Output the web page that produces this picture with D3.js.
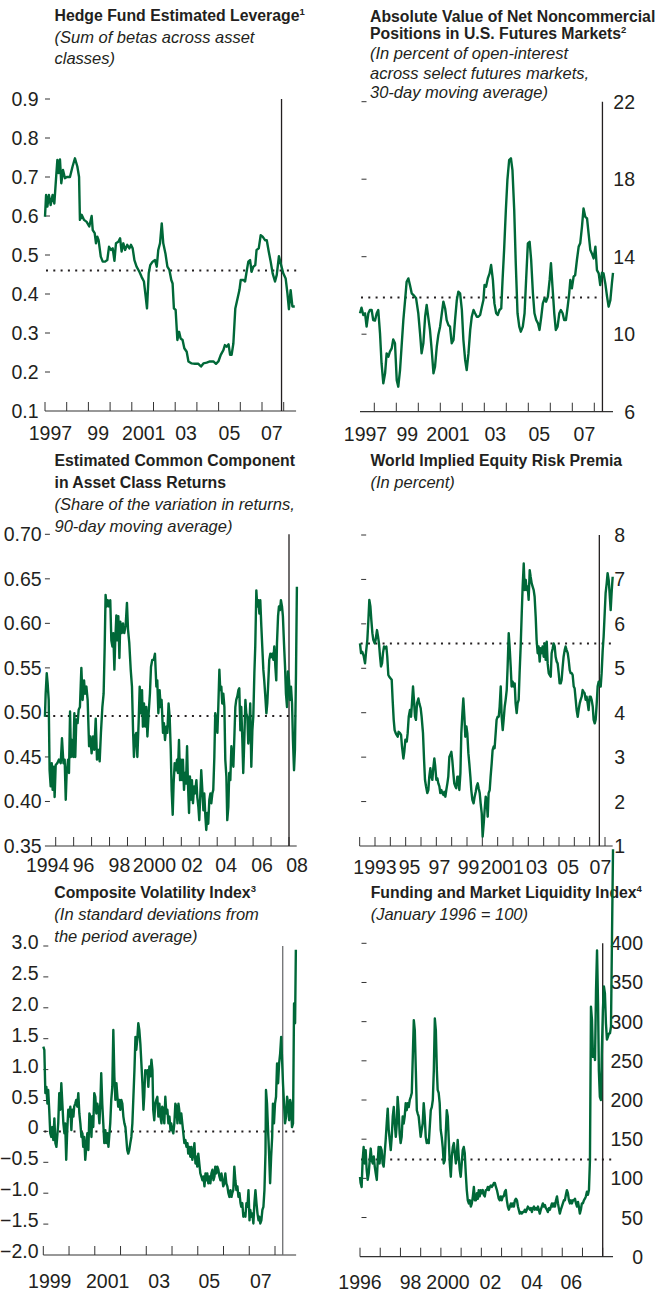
<!DOCTYPE html>
<html>
<head>
<meta charset="utf-8">
<script src="https://cdn.jsdelivr.net/npm/d3@7"></script>
<style>
  body { margin: 0; background: #fff; }
  svg { display: block; }
</style>
</head>
<body>
<div id="chart"></div>
<script>
// Hedge fund leverage (sum of betas)
let leverageYears = [1997.00,1997.05,1997.11,1997.18,1997.26,1997.35,1997.43,1997.51,1997.57,1997.63,
  1997.69,1997.75,1997.83,1997.92,1998.00,1998.15,1998.27,1998.38,1998.49,1998.57,
  1998.61,1998.69,1998.80,1998.92,1999.04,1999.15,1999.20,1999.29,1999.35,1999.41,
  1999.47,1999.57,1999.66,1999.77,1999.87,1999.95,2000.04,2000.12,2000.20,2000.27,
  2000.38,2000.46,2000.53,2000.61,2000.69,2000.79,2000.89,2000.96,2001.04,2001.12,
  2001.22,2001.35,2001.45,2001.56,2001.64,2001.70,2001.78,2001.85,2001.96,2002.07,
  2002.15,2002.22,2002.30,2002.38,2002.45,2002.55,2002.64,2002.73,2002.82,2002.88,
  2002.94,2003.02,2003.10,2003.18,2003.25,2003.34,2003.42,2003.53,2003.61,2003.76,
  2003.91,2004.07,2004.19,2004.30,2004.45,2004.60,2004.76,2004.88,2004.99,2005.10,
  2005.22,2005.29,2005.37,2005.46,2005.53,2005.60,2005.68,2005.77,2005.86,2005.96,
  2006.02,2006.14,2006.22,2006.29,2006.37,2006.45,2006.52,2006.60,2006.69,2006.75,
  2006.85,2006.94,2007.03,2007.14,2007.22,2007.31,2007.40,2007.49,2007.60,2007.68,
  2007.78,2007.88,2007.98,2008.09,2008.17,2008.24,2008.32,2008.40,2008.51]
let leverageValues = [0.598,0.654,0.624,0.654,0.628,0.654,0.632,0.697,0.744,0.71,
  0.745,0.684,0.718,0.697,0.70,0.70,0.727,0.748,0.727,0.70,
  0.59,0.603,0.59,0.585,0.573,0.60,0.564,0.556,0.53,0.547,
  0.538,0.496,0.483,0.483,0.487,0.521,0.513,0.517,0.485,0.53,
  0.534,0.543,0.509,0.53,0.513,0.526,0.517,0.526,0.517,0.487,
  0.47,0.457,0.444,0.432,0.393,0.363,0.453,0.474,0.483,0.487,
  0.47,0.513,0.53,0.581,0.53,0.504,0.47,0.462,0.436,0.427,
  0.363,0.359,0.282,0.303,0.286,0.282,0.261,0.252,0.227,0.222,
  0.221,0.221,0.214,0.222,0.224,0.227,0.227,0.221,0.227,0.244,
  0.256,0.269,0.265,0.271,0.244,0.244,0.273,0.363,0.385,0.41,
  0.436,0.436,0.432,0.457,0.483,0.487,0.457,0.47,0.474,0.513,
  0.517,0.551,0.547,0.538,0.538,0.509,0.483,0.453,0.432,0.449,
  0.497,0.474,0.453,0.44,0.402,0.361,0.41,0.368,0.368]

// Net noncommercial positions, percent of open interest
let positionsYears = [1997.35,1997.42,1997.50,1997.58,1997.65,1997.73,1997.80,1997.88,1997.95,1998.03,
  1998.11,1998.18,1998.26,1998.33,1998.41,1998.49,1998.56,1998.64,1998.71,1998.79,
  1998.86,1998.94,1999.02,1999.09,1999.17,1999.24,1999.32,1999.40,1999.47,1999.55,
  1999.62,1999.70,1999.78,1999.90,2000.00,2000.08,2000.15,2000.23,2000.31,2000.38,
  2000.46,2000.53,2000.61,2000.69,2000.76,2000.84,2000.91,2000.99,2001.07,2001.14,
  2001.22,2001.29,2001.37,2001.44,2001.52,2001.60,2001.67,2001.75,2001.82,2001.90,
  2001.98,2002.05,2002.13,2002.20,2002.28,2002.36,2002.43,2002.51,2002.58,2002.66,
  2002.73,2002.81,2002.89,2002.96,2003.01,2003.08,2003.16,2003.24,2003.31,2003.39,
  2003.46,2003.54,2003.61,2003.69,2003.77,2003.83,2003.90,2003.98,2004.05,2004.13,
  2004.21,2004.28,2004.36,2004.43,2004.51,2004.59,2004.66,2004.75,2004.83,2004.90,
  2004.98,2005.06,2005.13,2005.21,2005.28,2005.36,2005.44,2005.51,2005.59,2005.66,
  2005.74,2005.81,2005.89,2005.97,2006.03,2006.10,2006.18,2006.25,2006.33,2006.41,
  2006.48,2006.56,2006.63,2006.71,2006.79,2006.86,2006.91,2006.98,2007.06,2007.13,
  2007.21,2007.29,2007.36,2007.44,2007.51,2007.59,2007.67,2007.74,2007.82,2007.89,
  2007.97,2008.05,2008.12,2008.20,2008.27,2008.35,2008.42,2008.50,2008.58,2008.65,
  2008.73,2008.80,2008.85]
let positionsValues = [11.08,11.37,10.99,11.08,10.39,11.08,11.25,11.25,10.73,10.70,
  11.08,11.25,10.04,8.49,7.46,7.98,9.01,8.84,9.10,9.27,
  9.73,9.53,7.63,7.29,8.15,9.36,10.73,11.76,12.71,12.88,
  12.54,12.11,12.02,11.85,11.08,10.04,9.01,9.53,10.90,11.51,
  10.82,10.22,9.18,7.98,8.32,9.36,9.96,10.39,11.08,11.68,
  11.33,10.73,10.47,10.39,9.53,9.70,10.73,11.76,12.19,12.11,
  11.25,9.70,8.67,8.15,9.01,10.22,10.90,11.25,11.08,10.90,
  10.90,10.99,11.42,11.76,12.54,12.45,12.88,13.14,13.57,12.80,
  11.59,11.08,10.99,11.25,11.33,12.80,14.34,16.41,17.96,18.99,
  19.08,18.47,16.41,13.66,11.08,10.39,10.13,10.39,11.08,12.80,
  14.69,14.77,13.83,12.11,11.08,10.73,10.56,10.22,10.90,11.59,
  11.85,11.68,11.94,12.80,13.66,12.45,11.08,10.22,10.39,11.08,
  11.25,11.08,10.73,10.73,11.42,12.11,12.80,12.37,12.97,13.05,
  13.83,14.52,14.69,15.55,16.49,16.06,15.98,15.20,14.34,14.17,
  13.91,14.52,13.31,13.14,12.54,13.17,13.14,12.62,11.94,11.42,
  11.76,12.62,13.17]

// Common component in asset class returns
let commonYears = [1994.40,1994.44,1994.50,1994.55,1994.61,1994.66,1994.72,1994.78,1994.83,1994.89,1994.94,1995.00,
  1995.09,1995.18,1995.28,1995.35,1995.43,1995.50,1995.56,1995.61,1995.69,1995.74,1995.80,1995.85,1995.91,1995.98,1996.04,1996.09,1996.15,1996.22,1996.28,1996.35,
  1996.43,1996.50,1996.58,1996.63,1996.71,1996.78,1996.86,1996.93,1997.00,1997.08,1997.15,1997.23,1997.30,1997.38,1997.45,1997.52,1997.60,1997.67,1997.73,1997.78,
  1997.84,1997.90,1997.97,1998.04,1998.10,1998.16,1998.21,1998.27,1998.32,1998.38,1998.43,1998.49,1998.55,1998.60,1998.68,1998.75,1998.82,1998.90,1998.97,1999.03,
  1999.10,1999.18,1999.25,1999.31,1999.36,1999.42,1999.49,1999.55,1999.62,1999.68,1999.73,1999.81,1999.86,1999.92,1999.99,2000.05,2000.11,2000.18,2000.25,2000.31,
  2000.38,2000.46,2000.53,2000.61,2000.66,2000.72,2000.79,2000.85,2000.90,2000.98,2001.03,2001.09,2001.16,2001.22,2001.29,2001.35,2001.41,2001.46,2001.52,2001.57,
  2001.63,2001.70,2001.76,2001.81,2001.87,2001.93,2001.98,2002.04,2002.09,2002.15,2002.20,2002.26,2002.32,2002.37,2002.43,2002.48,2002.54,2002.59,2002.65,2002.71,
  2002.76,2002.84,2002.89,2002.95,2003.00,2003.06,2003.11,2003.17,2003.23,2003.28,2003.34,2003.39,2003.45,2003.50,2003.56,2003.62,2003.67,2003.73,2003.78,2003.84,
  2003.89,2003.95,2004.01,2004.06,2004.12,2004.17,2004.23,2004.28,2004.34,2004.40,2004.45,2004.51,2004.56,2004.62,2004.67,2004.73,2004.79,2004.84,2004.90,2004.95,
  2005.01,2005.06,2005.12,2005.18,2005.23,2005.29,2005.34,2005.40,2005.45,2005.51,2005.57,2005.62,2005.68,2005.73,2005.79,2005.84,2005.90,2005.96,2006.01,2006.07,
  2006.12,2006.18,2006.23,2006.29,2006.35,2006.40,2006.46,2006.51,2006.57,2006.62,2006.68,2006.74,2006.79,2006.85,2006.90,2006.96,2007.01,2007.07,2007.13,2007.18,
  2007.24,2007.29,2007.33,2007.39,2007.44,2007.50,2007.55,2007.61,2007.66,2007.72,2007.78,2007.83,2007.89,2007.94,2008.00,2008.05,2008.11,2008.17,2008.22,2008.28,
  2008.33,2008.39,2008.44]
let commonValues = [0.495,0.521,0.544,0.533,0.514,0.435,0.417,0.443,0.413,0.439,0.405,0.441,
  0.443,0.447,0.443,0.471,0.443,0.447,0.402,0.432,0.447,0.432,0.501,0.450,0.469,0.450,0.499,0.450,0.492,0.488,0.503,0.506,
  0.550,0.514,0.536,0.521,0.529,0.514,0.462,0.473,0.454,0.473,0.458,0.493,0.447,0.458,0.445,0.477,0.506,0.521,0.574,0.632,
  0.619,0.626,0.619,0.626,0.581,0.574,0.589,0.548,0.581,0.609,0.581,0.608,0.561,0.602,0.589,0.600,0.589,0.598,0.623,0.593,
  0.578,0.548,0.529,0.480,0.450,0.473,0.477,0.450,0.488,0.529,0.499,0.525,0.484,0.510,0.484,0.506,0.473,0.499,0.521,0.551,
  0.559,0.559,0.566,0.529,0.536,0.499,0.525,0.506,0.514,0.477,0.488,0.469,0.484,0.477,0.510,0.495,0.458,0.413,0.385,0.420,
  0.443,0.435,0.447,0.432,0.469,0.424,0.447,0.424,0.447,0.413,0.432,0.420,0.462,0.420,0.387,0.428,0.402,0.424,0.398,0.417,
  0.409,0.424,0.405,0.394,0.379,0.409,0.435,0.413,0.390,0.409,0.383,0.368,0.387,0.375,0.402,0.409,0.398,0.409,0.413,0.450,
  0.499,0.492,0.477,0.506,0.548,0.525,0.529,0.510,0.521,0.506,0.447,0.428,0.379,0.394,0.432,0.424,0.462,0.450,0.439,0.469,
  0.506,0.514,0.518,0.525,0.527,0.480,0.506,0.469,0.432,0.469,0.514,0.499,0.495,0.465,0.484,0.510,0.439,0.480,0.495,0.544,
  0.574,0.637,0.619,0.626,0.611,0.626,0.596,0.574,0.548,0.536,0.518,0.499,0.510,0.536,0.559,0.566,0.562,0.566,0.559,0.574,
  0.551,0.536,0.578,0.608,0.619,0.615,0.626,0.619,0.608,0.578,0.551,0.521,0.506,0.546,0.536,0.514,0.529,0.510,0.469,0.435,
  0.458,0.544,0.641]

// World implied equity risk premia, percent
let premiaYears = [1992.02,1992.09,1992.17,1992.26,1992.35,1992.41,1992.50,1992.57,1992.63,1992.70,1992.76,1992.83,1992.89,1992.98,1993.04,1993.13,1993.20,1993.26,1993.33,1993.39,
  1993.46,1993.52,1993.59,1993.67,1993.74,1993.80,1993.87,1993.93,1994.02,1994.09,1994.15,1994.22,1994.28,1994.35,1994.41,1994.48,1994.54,1994.63,1994.70,1994.76,
  1994.85,1994.91,1994.98,1995.07,1995.13,1995.20,1995.28,1995.35,1995.41,1995.48,1995.54,1995.61,1995.67,1995.74,1995.83,1995.89,1995.98,1996.04,1996.13,1996.20,
  1996.26,1996.33,1996.41,1996.48,1996.54,1996.61,1996.67,1996.74,1996.80,1996.87,1996.93,1997.00,1997.07,1997.13,1997.20,1997.26,1997.33,1997.39,1997.46,1997.52,
  1997.59,1997.65,1997.72,1997.78,1997.85,1997.91,1997.98,1998.04,1998.11,1998.17,1998.24,1998.30,1998.37,1998.43,1998.50,1998.57,1998.63,1998.70,1998.76,1998.83,
  1998.89,1998.96,1999.02,1999.09,1999.15,1999.22,1999.28,1999.35,1999.43,1999.50,1999.57,1999.63,1999.70,1999.76,1999.83,1999.89,1999.96,2000.02,2000.09,2000.15,
  2000.22,2000.28,2000.35,2000.41,2000.48,2000.54,2000.61,2000.67,2000.74,2000.80,2000.87,2000.93,2001.00,2001.07,2001.13,2001.20,2001.26,2001.33,2001.39,2001.46,
  2001.52,2001.59,2001.65,2001.72,2001.78,2001.85,2001.91,2001.98,2002.04,2002.11,2002.17,2002.24,2002.30,2002.37,2002.43,2002.50,2002.57,2002.63,2002.70,2002.76,
  2002.83,2002.89,2002.96,2003.02,2003.09,2003.15,2003.22,2003.28,2003.35,2003.41,2003.48,2003.54,2003.61,2003.67,2003.74,2003.80,2003.87,2003.93,2004.00,2004.07,
  2004.13,2004.20,2004.26,2004.33,2004.39,2004.46,2004.52,2004.59,2004.65,2004.72,2004.78,2004.85,2004.91,2004.98,2005.04,2005.11,2005.17,2005.24,2005.30,2005.37,
  2005.43,2005.50,2005.57,2005.63,2005.70,2005.76,2005.83,2005.89,2005.96,2006.02,2006.09,2006.15,2006.22,2006.28,2006.35,2006.41,2006.48,2006.54,2006.61,2006.67,
  2006.74,2006.80,2006.87,2006.93,2007.00,2007.07,2007.13,2007.20,2007.26,2007.33,2007.39,2007.46,2007.52,2007.59,2007.65,2007.72,2007.78,2007.85,2007.91,2007.98,
  2008.04,2008.11,2008.17,2008.24,2008.30,2008.37,2008.43,2008.50]
let premiaValues = [5.56,5.34,5.37,5.28,5.11,5.34,5.64,6.09,6.54,6.39,6.09,5.79,5.64,5.56,5.64,5.86,5.71,5.56,5.26,5.04,
  5.11,5.34,5.49,5.45,5.49,5.26,4.85,4.81,4.77,4.74,4.29,3.84,3.61,3.54,3.50,3.46,3.57,3.54,3.50,3.24,
  2.97,3.12,3.39,3.35,3.54,3.91,4.06,3.91,4.21,4.59,4.29,3.91,3.84,4.21,4.32,4.21,4.10,3.91,3.54,2.94,
  2.49,2.34,2.19,2.26,2.56,2.75,2.56,2.49,2.75,2.97,2.79,2.49,2.52,2.41,2.34,2.19,2.26,2.19,2.15,2.22,
  2.11,2.26,2.41,2.56,3.01,3.05,3.12,2.94,2.64,2.41,2.34,2.30,2.56,2.56,2.26,2.64,3.54,3.99,4.32,3.91,
  3.46,3.69,3.54,3.09,2.86,2.56,2.26,2.04,1.96,2.11,2.22,2.34,2.41,2.30,2.19,1.96,1.74,1.21,1.51,1.81,
  2.11,2.04,1.66,2.19,2.26,2.56,2.86,3.16,3.24,3.20,3.54,3.84,3.91,3.91,4.14,4.59,3.91,3.61,3.84,4.14,
  4.29,4.51,5.04,5.79,5.49,5.04,4.59,4.70,4.59,4.66,4.21,3.99,4.21,4.29,4.89,5.49,6.24,6.84,7.36,6.76,
  6.99,6.76,6.84,6.54,7.21,7.06,6.91,6.84,6.76,6.61,6.16,5.64,5.34,5.49,5.15,5.45,5.34,5.49,5.26,5.56,
  5.19,5.60,5.11,4.89,4.85,4.81,5.34,5.45,5.56,5.49,5.26,5.15,5.11,4.89,4.66,4.66,4.74,5.04,5.26,5.41,
  5.49,5.41,5.34,5.19,4.96,4.89,4.89,4.85,4.59,4.55,4.29,4.06,3.91,4.06,4.21,4.29,4.36,4.51,4.47,4.44,
  4.29,4.36,4.21,4.06,4.36,4.36,4.29,4.14,3.84,3.76,3.84,4.21,4.59,4.70,4.66,4.59,4.89,5.41,5.71,6.24,
  6.69,6.91,7.14,6.99,6.69,6.31,6.69,7.06]

// Composite volatility index, standard deviations
let volYears = [1999.00,1999.04,1999.08,1999.12,1999.16,1999.19,1999.23,1999.27,1999.31,1999.35,1999.39,1999.43,1999.47,1999.51,1999.54,1999.58,1999.62,1999.66,1999.70,1999.74,
  1999.78,1999.82,1999.85,1999.89,1999.93,1999.97,2000.01,2000.05,2000.09,2000.13,2000.17,2000.20,2000.24,2000.28,2000.32,2000.36,2000.40,2000.44,2000.48,2000.52,
  2000.55,2000.59,2000.63,2000.67,2000.71,2000.75,2000.79,2000.83,2000.87,2000.90,2000.94,2000.98,2001.02,2001.06,2001.10,2001.14,2001.18,2001.22,2001.25,2001.29,
  2001.33,2001.37,2001.41,2001.45,2001.49,2001.53,2001.56,2001.60,2001.64,2001.68,2001.72,2001.76,2001.80,2001.84,2001.88,2001.91,2001.95,2001.99,2002.03,2002.07,
  2002.11,2002.15,2002.19,2002.23,2002.26,2002.30,2002.34,2002.38,2002.42,2002.46,2002.50,2002.54,2002.58,2002.61,2002.65,2002.69,2002.73,2002.77,2002.81,2002.85,
  2002.89,2002.92,2002.96,2003.00,2003.04,2003.08,2003.12,2003.16,2003.20,2003.24,2003.27,2003.31,2003.35,2003.39,2003.43,2003.47,2003.51,2003.55,2003.59,2003.62,
  2003.66,2003.70,2003.74,2003.78,2003.82,2003.86,2003.90,2003.94,2003.97,2004.01,2004.05,2004.09,2004.13,2004.17,2004.21,2004.25,2004.28,2004.32,2004.36,2004.40,
  2004.44,2004.48,2004.52,2004.56,2004.60,2004.63,2004.67,2004.71,2004.75,2004.79,2004.83,2004.87,2004.91,2004.95,2004.98,2005.02,2005.06,2005.10,2005.14,2005.18,
  2005.22,2005.26,2005.30,2005.33,2005.37,2005.41,2005.45,2005.49,2005.53,2005.57,2005.61,2005.65,2005.68,2005.72,2005.76,2005.80,2005.84,2005.88,2005.92,2005.96,
  2005.99,2006.03,2006.07,2006.11,2006.15,2006.19,2006.23,2006.27,2006.31,2006.34,2006.38,2006.42,2006.46,2006.50,2006.54,2006.58,2006.62,2006.66,2006.69,2006.73,
  2006.77,2006.81,2006.85,2006.89,2006.93,2006.97,2007.01,2007.04,2007.08,2007.12,2007.16,2007.20,2007.24,2007.28,2007.32,2007.36,2007.39,2007.43,2007.47,2007.51,
  2007.55,2007.59,2007.63,2007.65,
  2007.69,2007.73,2007.77,2007.81,2007.85,2007.89,2007.92,2007.96,2008.00,2008.04,2008.08,2008.12,2008.16,2008.20,2008.24,2008.27,2008.31,2008.35,2008.39,2008.43,
  2008.47,2008.51,2008.55,2008.59,2008.62,2008.66,2008.70,2008.74,2008.78,2008.81]
let volValues = [1.37,1.32,0.62,0.72,0.45,0.67,0.35,-0.03,-0.09,0.07,-0.14,0.21,-0.19,-0.25,-0.09,0.13,0.62,0.35,0.78,0.45,
  0.13,-0.03,0.13,-0.46,0.02,0.35,0.24,0.40,0.02,0.35,0.24,0.40,0.45,0.51,0.40,0.62,0.29,0.13,-0.09,-0.03,
  -0.25,-0.09,-0.46,-0.25,-0.03,-0.30,0.29,0.24,-0.09,0.24,0.07,0.62,0.56,0.29,0.45,0.35,0.13,0.51,0.94,0.45,
  0.13,-0.19,0.02,-0.19,-0.03,-0.25,-0.09,0.13,0.51,0.72,1.64,0.89,0.51,0.78,0.56,0.40,0.51,0.35,0.51,0.45,
  0.24,0.13,0.07,-0.14,-0.30,-0.36,-0.30,-0.19,-0.09,0.13,0.56,0.99,1.53,1.32,1.48,1.75,1.64,1.42,1.10,0.78,
  0.35,0.56,0.99,0.94,0.99,0.72,1.05,0.89,1.16,0.99,0.35,0.18,0.45,0.51,0.56,0.24,0.45,0.24,0.13,0.40,
  0.35,0.13,0.56,0.29,0.35,0.13,0.24,0.02,0.13,0.02,-0.03,0.13,0.45,0.40,0.13,0.45,0.35,0.13,0.29,0.13,
  -0.03,-0.19,-0.14,-0.25,-0.19,-0.36,-0.25,-0.41,-0.25,-0.46,-0.36,-0.19,-0.52,-0.41,-0.57,-0.36,-0.52,-0.68,-0.73,-0.79,
  -0.73,-0.89,-0.68,-0.79,-0.68,-0.84,-0.73,-0.84,-0.68,-0.62,-0.79,-0.73,-0.57,-0.68,-0.57,-0.62,-0.73,-0.79,-0.68,-0.79,
  -0.89,-0.84,-0.68,-0.84,-0.89,-1.00,-1.06,-0.95,-1.06,-1.00,-0.95,-0.57,-0.79,-0.95,-0.89,-1.06,-1.00,-1.16,-1.22,-1.16,
  -1.38,-1.33,-1.38,-1.16,-1.22,-0.95,-1.44,-1.27,-1.38,-1.33,-1.49,-1.16,-0.95,-1.16,-1.33,-1.44,-1.38,-1.49,-1.44,-1.27,
  -1.22,-0.95,-0.36,0.67,
  0.45,0.02,-0.36,-0.84,-0.41,-0.09,0.45,0.13,0.45,0.56,1.10,0.78,1.10,1.26,1.53,1.21,0.78,0.45,0.13,0.24,
  0.56,0.45,0.18,0.51,0.45,0.07,0.13,2.07,1.75,2.94]

// Funding and market liquidity index, January 1996 = 100
let liquidityYears = [1996.00,1996.03,
  1996.08,1996.13,1996.18,1996.23,1996.28,1996.33,1996.38,1996.43,1996.48,1996.53,1996.58,1996.63,1996.68,1996.73,1996.78,1996.83,1996.87,1996.92,1996.97,1997.02,
  1997.07,1997.12,1997.17,1997.22,1997.27,1997.32,1997.37,1997.42,1997.47,1997.52,1997.57,1997.62,1997.67,1997.72,1997.77,1997.82,1997.86,1997.91,1997.96,1998.01,
  1998.06,1998.11,1998.16,1998.21,1998.26,1998.31,1998.36,1998.41,1998.46,1998.51,1998.56,1998.61,1998.66,1998.71,1998.76,1998.81,1998.85,1998.90,1998.95,1999.00,
  1999.05,1999.10,1999.15,1999.20,1999.25,1999.30,1999.35,1999.40,1999.45,1999.50,1999.55,1999.60,1999.65,1999.70,1999.75,1999.80,1999.84,1999.89,1999.94,1999.99,
  2000.04,2000.09,2000.14,2000.19,2000.24,2000.29,2000.34,2000.39,2000.44,2000.49,2000.54,2000.59,2000.64,2000.69,2000.74,2000.79,2000.83,2000.88,2000.93,2000.98,
  2001.03,2001.08,2001.13,2001.18,2001.23,2001.28,2001.33,2001.38,2001.43,2001.48,2001.53,2001.58,2001.63,2001.68,2001.73,2001.78,2001.83,2001.87,2001.92,2001.97,
  2002.02,2002.07,2002.12,2002.17,2002.22,2002.27,2002.32,2002.37,2002.42,2002.47,2002.52,2002.57,2002.62,2002.67,2002.72,2002.77,2002.82,2002.86,2002.91,2002.96,
  2003.01,2003.06,2003.11,2003.16,2003.21,2003.26,2003.31,2003.36,2003.41,2003.46,2003.51,2003.56,2003.61,2003.66,2003.71,2003.76,2003.81,2003.85,2003.90,2003.95,
  2004.00,2004.05,2004.10,2004.15,2004.20,2004.25,2004.30,2004.35,2004.40,2004.45,2004.50,2004.55,2004.60,2004.65,2004.70,2004.75,2004.80,2004.84,2004.89,2004.94,
  2004.99,2005.04,2005.09,2005.14,2005.19,2005.24,2005.29,2005.34,2005.39,2005.44,2005.49,2005.54,2005.59,2005.64,2005.69,2005.74,2005.79,2005.83,2005.88,2005.93,
  2005.98,2006.03,2006.08,2006.13,2006.18,2006.23,2006.28,2006.33,2006.38,2006.43,2006.48,2006.53,2006.58,2006.63,2006.68,2006.73,2006.78,2006.82,2006.87,2006.92,
  2006.97,2007.02,2007.07,2007.12,2007.17,2007.22,2007.27,2007.32,2007.37,2007.42,2007.47,2007.52,2007.57,2007.62,2007.67,2007.72,2007.77,2007.81,2007.86,2007.91,
  2007.96,2008.01,2008.06,2008.11,2008.16,2008.21,2008.26,2008.31,2008.36,2008.41,2008.46,2008.51]
let liquidityValues = [102,94,
  89,123,140,119,136,111,98,106,123,138,123,119,128,115,106,98,119,140,119,140,
  136,119,115,132,149,170,189,162,149,136,153,179,191,170,153,170,204,187,157,145,
  153,179,170,179,196,187,196,191,200,204,209,255,302,289,238,187,183,179,166,153,
  162,170,196,179,153,145,149,145,166,187,191,200,238,304,289,238,213,209,196,162,
  153,140,119,123,157,187,179,149,119,102,128,140,145,132,119,132,149,128,111,102,
  119,136,140,132,106,85,72,68,72,64,68,77,89,72,72,81,74,85,77,85,
  81,85,79,77,85,85,89,85,89,91,89,91,94,94,89,85,79,74,72,77,
  72,77,77,83,85,72,64,60,64,68,64,68,64,72,74,72,64,60,55,57,
  55,57,57,60,57,60,64,62,60,62,57,62,64,60,62,60,64,60,55,60,
  64,68,64,66,62,60,57,62,60,64,68,64,68,64,72,77,68,62,55,60,
  64,68,72,72,79,85,81,72,68,72,68,72,72,74,68,64,70,64,55,60,
  68,68,72,74,77,83,79,85,123,319,302,255,264,251,340,391,323,238,204,200,
  264,315,345,336,298,277,281,285,285,294,409,520]

// tick values and labels
let leverageTicks = [0.1, 0.2, 0.3, 0.4, 0.5, 0.6, 0.7, 0.8, 0.9]
let positionsTicks = [6, 10, 14, 18, 22]
let commonTicks = [0.35, 0.40, 0.45, 0.50, 0.55, 0.60, 0.65, 0.70]
let premiaTicks = [1, 2, 3, 4, 5, 6, 7, 8]
let volTicks = [-2, -1.5, -1, -0.5, 0, 0.5, 1, 1.5, 2, 2.5, 3]
let liquidityTicks = [0, 50, 100, 150, 200, 250, 300, 350, 400]

let leverageLabels = ['1997', '99', '2001', '03', '05', '07']
let leverageLabelYears = [1997.25, 1999.45, 2001.55, 2003.5, 2005.5, 2007.45]
let positionsLabels = ['1997', '99', '2001', '03', '05', '07']
let positionsLabelYears = [1997.6, 1999.5, 2001.35, 2003.5, 2005.5, 2007.55]
let commonLabels = ['1994', '96', '98', '2000', '02', '04', '06', '08']
let commonLabelYears = [1994.55, 1996.55, 1998.55, 2000.5, 2002.6, 2004.5, 2006.5, 2008.45]
let premiaLabels = ['1993', '95', '97', '99', '2001', '03', '05', '07']
let premiaLabelYears = [1993.0, 1995.25, 1997.2, 1999.1, 2001.3, 2003.55, 2005.6, 2007.7]
let volLabels = ['1999', '2001', '03', '05', '07']
let volLabelYears = [1999.25, 2001.5, 2003.5, 2005.45, 2007.45]
let liquidityLabels = ['1996', '98', '2000', '02', '04', '06']
let liquidityLabelYears = [1996.0, 1998.5, 2000.35, 2002.45, 2004.5, 2006.45]

// dotted reference levels and the vertical marker dates
let referenceLevels = { leverage: 0.46, positions: 11.9, common: 0.496, premia: 5.56, vol: 0, liquidity: 124 }
let markerYears = { leverage: 2007.9, positions: 2008.37, common: 2008.0, premia: 2007.63, vol: 2008.3, liquidity: 2008.0 }

let green = '#006838'
let ink = '#231f20'
let width = 660
let height = 1293

let svg = d3.select('#chart').append('svg')
  .attr('width', width)
  .attr('height', height)

svg.append('rect').attr('width', width).attr('height', height).attr('fill', '#fff')

let panels = [
  {
    key: 'leverage', years: leverageYears, values: leverageValues,
    xDomain: [1997, 2008], xRange: [45, 283.7], axisYears: [1997, 2008.57], tickYears: d3.range(1997, 2009),
    yDomain: [0.1, 0.9], yRange: [411, 99], yTicks: leverageTicks, fmt: d3.format('.1f'),
    labels: leverageLabels, labelYears: leverageLabelYears, labelGap: 29,
    side: 'left', labelX: 38.5, labelShift: 0,
    titleX: 54.5, bold: ['Hedge Fund Estimated Leverage'], note: '1', boldY: [21],
    italic: ['(Sum of betas across asset', 'classes)'], italicY: [43, 64]
  },
  {
    key: 'positions', years: positionsYears, values: positionsValues,
    xDomain: [1998, 2008], xRange: [374.3, 594.3], axisYears: [1997.35, 2008.85], tickYears: d3.range(1998, 2009),
    yDomain: [6, 22], yRange: [411.7, 101.7], yTicks: positionsTicks, fmt: d3.format('d'),
    labels: positionsLabels, labelYears: positionsLabelYears, labelGap: 29,
    side: 'right', labelX: 635, labelShift: 0, refEnd: 2008.37,
    titleX: 370, bold: ['Absolute Value of Net Noncommercial', 'Positions in U.S. Futures Markets'], note: '2', boldY: [21.7, 39],
    italic: ['(In percent of open-interest', 'across select futures markets,', '30-day moving average)'], italicY: [59.3, 79, 98.3]
  },
  {
    key: 'common', years: commonYears, values: commonValues,
    xDomain: [1995, 2008], xRange: [55.7, 289], axisYears: [1994.4, 2008.43], tickYears: d3.range(1995, 2009),
    yDomain: [0.35, 0.70], yRange: [846, 534.3], yTicks: commonTicks, fmt: d3.format('.2f'),
    labels: commonLabels, labelYears: commonLabelYears, labelGap: 26,
    side: 'left', labelX: 41.7, labelShift: 0,
    titleX: 54.5, bold: ['Estimated Common Component', 'in Asset Class Returns'], note: '', boldY: [466, 487.7],
    italic: ['(Share of the variation in returns,', '90-day moving average)'], italicY: [509.5, 532]
  },
  {
    key: 'premia', years: premiaYears, values: premiaValues,
    xDomain: [1993, 2008], xRange: [375, 605], axisYears: [1992, 2008.5], tickYears: d3.range(1992, 2009),
    yDomain: [1, 8], yRange: [846, 535], yTicks: premiaTicks, fmt: d3.format('d'),
    labels: premiaLabels, labelYears: premiaLabelYears, labelGap: 27.5,
    side: 'right', labelX: 625, labelShift: 0,
    titleX: 370.5, bold: ['World Implied Equity Risk Premia'], note: '', boldY: [466],
    italic: ['(In percent)'], italicY: [488]
  },
  {
    key: 'vol', years: volYears, values: volValues,
    xDomain: [1999, 2008], xRange: [43.3, 275], axisYears: [1999, 2008.82], tickYears: d3.range(1999, 2009),
    yDomain: [-2, 3], yRange: [1255, 946], yTicks: volTicks, fmt: v => v === 0 ? '0' : d3.format('.1f')(v),
    labels: volLabels, labelYears: volLabelYears, labelGap: 33,
    side: 'left', labelX: 38.5, labelShift: -4, markerColor: '#6d6e70',
    titleX: 54.3, bold: ['Composite Volatility Index'], note: '3', boldY: [898.3],
    italic: ['(In standard deviations from', 'the period average)'], italicY: [920, 941.7]
  },
  {
    key: 'liquidity', years: liquidityYears, values: liquidityValues,
    xDomain: [1996, 2008], xRange: [360, 602.7], axisYears: [1996, 2008.51], tickYears: d3.range(1996, 2009),
    yDomain: [0, 400], yRange: [1256.7, 943.3], yTicks: liquidityTicks, fmt: d3.format('d'),
    labels: liquidityLabels, labelYears: liquidityLabelYears, labelGap: 32.5,
    side: 'right', labelX: 643, labelShift: 0,
    titleX: 370.7, bold: ['Funding and Market Liquidity Index'], note: '4', boldY: [898.3],
    italic: ['(January 1996 = 100)'], italicY: [920]
  }
]

let tickFont = '"Liberation Sans Narrow", "Arial Narrow", "Liberation Sans", sans-serif'
let titleFont = '"Liberation Sans", Arial, sans-serif'

function drawPanel (p) {
  let xScale = d3.scaleLinear().domain(p.xDomain).range(p.xRange)
  let yScale = d3.scaleLinear().domain(p.yDomain).range(p.yRange)
  let g = svg.append('g').attr('class', 'panel-' + p.key)
  let x0 = xScale(p.axisYears[0])
  let x1 = xScale(p.axisYears[1])
  let base = yScale(p.yDomain[0])
  let top = yScale(p.yDomain[1])

  // titles
  p.bold.forEach((line, i) => {
    let t = g.append('text')
      .attr('x', p.titleX).attr('y', p.boldY[i])
      .attr('font-family', titleFont).attr('font-weight', 'bold')
      .attr('font-size', 15.8).attr('fill', ink)
      .text(line)
    if (i === p.bold.length - 1 && p.note) {
      t.append('tspan').attr('dy', -6).attr('font-size', 9.5).text(p.note)
    }
  })
  p.italic.forEach((line, i) => {
    g.append('text')
      .attr('x', p.titleX).attr('y', p.italicY[i])
      .attr('font-family', titleFont).attr('font-style', 'italic')
      .attr('font-size', 16.5).attr('fill', ink)
      .text(line)
  })

  // y ticks: short dashes on the left edge, labels on the chosen side
  let dashX = p.side === 'left' ? [x0, x0 + 5] : [x0 + 1.5, x0 + 6.5]
  g.selectAll('.ydash')
    .data(p.yTicks.filter(v => v !== p.yDomain[0]))
    .enter().append('line')
    .attr('x1', dashX[0]).attr('x2', dashX[1])
    .attr('y1', d => yScale(d)).attr('y2', d => yScale(d))
    .attr('stroke', '#333').attr('stroke-width', 1)

  g.selectAll('.ylabel')
    .data(p.yTicks)
    .enter().append('text')
    .attr('x', p.labelX)
    .attr('y', d => yScale(d) + 7 + p.labelShift)
    .attr('text-anchor', 'end')
    .attr('font-family', tickFont).attr('font-size', 19.5).attr('fill', ink)
    .text(p.fmt)

  // x axis line, upward year ticks and labels
  g.append('line')
    .attr('x1', x0).attr('x2', x1).attr('y1', base).attr('y2', base)
    .attr('stroke', '#333').attr('stroke-width', 1.2)

  g.selectAll('.xtick')
    .data(p.tickYears)
    .enter().append('line')
    .attr('x1', d => xScale(d)).attr('x2', d => xScale(d))
    .attr('y1', base).attr('y2', base - 9)
    .attr('stroke', '#333').attr('stroke-width', 1)

  g.selectAll('.xlabel')
    .data(p.labels)
    .enter().append('text')
    .attr('x', (d, i) => xScale(p.labelYears[i]))
    .attr('y', base + p.labelGap)
    .attr('text-anchor', 'middle')
    .attr('font-family', tickFont).attr('font-size', 19.5).attr('fill', ink)
    .text(d => d)

  // dotted average line
  let refY = yScale(referenceLevels[p.key])
  g.append('line')
    .attr('x1', x0 + 1).attr('x2', p.refEnd ? xScale(p.refEnd) : x1 + 1)
    .attr('y1', refY).attr('y2', refY)
    .attr('stroke', ink).attr('stroke-width', 2)
    .attr('stroke-dasharray', '2,5.3')

  // vertical marker
  let mx = xScale(markerYears[p.key])
  g.append('line')
    .attr('x1', mx).attr('x2', mx).attr('y1', top).attr('y2', base)
    .attr('stroke', p.markerColor || ink).attr('stroke-width', 1.3)

  // series
  let line = d3.line()
    .x(d => xScale(d[0]))
    .y(d => yScale(d[1]))

  g.append('path')
    .attr('d', line(d3.zip(p.years, p.values)))
    .attr('fill', 'none')
    .attr('stroke', green)
    .attr('stroke-width', 2.4)
    .attr('stroke-linejoin', 'round')
}

panels.forEach(drawPanel)
</script>
</body>
</html>
